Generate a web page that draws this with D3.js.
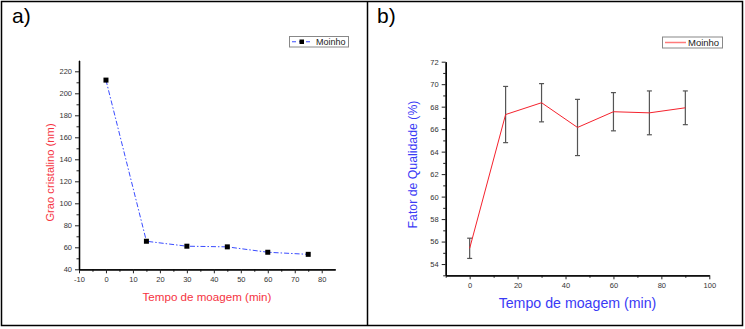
<!DOCTYPE html>
<html>
<head>
<meta charset="utf-8">
<script src="https://cdn.jsdelivr.net/npm/d3@7"></script>
<style>
  body { margin: 0; background: #fff; }
  svg { font-family: "Liberation Sans", Arial, sans-serif; display: block; }
</style>
</head>
<body>
<svg id="chart" width="745" height="329"></svg>
<script>
// panel a) grao cristalino
const tempoA = [0, 15, 30, 45, 60, 75];
const graoA = [212, 65.5, 61, 60.4, 55.5, 53.6];
const ticksXA = [-10, 0, 10, 20, 30, 40, 50, 60, 70, 80];
const ticksYA = [40, 60, 80, 100, 120, 140, 160, 180, 200, 220];

// panel b) fator de qualidade
const tempoB = [0, 15, 30, 45, 60, 75, 90];
const fatorB = [55.4, 67.3, 68.35, 66.15, 67.55, 67.45, 67.9];
const erroB = [0.9, 2.5, 1.7, 2.5, 1.7, 1.95, 1.5];
const ticksXB = [0, 20, 40, 60, 80, 100];
const ticksYB = [54, 56, 58, 60, 62, 64, 66, 68, 70, 72];

const svg = d3.select('#chart');

// frames
svg.append('rect')
    .attr('x', 1.5).attr('y', 1.5)
    .attr('width', 741).attr('height', 324)
    .attr('fill', 'none').attr('stroke', '#000').attr('stroke-width', 1.5);
svg.append('line')
    .attr('x1', 367.5).attr('x2', 367.5).attr('y1', 1.5).attr('y2', 325.5)
    .attr('stroke', '#000').attr('stroke-width', 1.5);

function drawAxes(g, x, y, xt, yt, xMinor, yMinor) {
    const fmt = d => String(d);
    const xAxis = d3.axisBottom(x).tickValues(xt).tickFormat(fmt).tickSize(4).tickSizeOuter(0).tickPadding(3);
    const xAxisMinor = d3.axisBottom(x).tickValues(xMinor).tickSize(2.5).tickFormat('').tickSizeOuter(0);
    const yAxis = d3.axisLeft(y).tickValues(yt).tickFormat(fmt).tickSize(4).tickSizeOuter(0).tickPadding(3);
    const yAxisMinor = d3.axisLeft(y).tickValues(yMinor).tickSize(2.5).tickFormat('').tickSizeOuter(0);

    const y0 = y.range()[0];
    const x0 = x.range()[0];

    [xAxisMinor, xAxis].forEach(a => {
        g.append('g').attr('transform', `translate(0,${y0})`).call(a);
    });
    [yAxisMinor, yAxis].forEach(a => {
        g.append('g').attr('transform', `translate(${x0},0)`).call(a);
    });
    g.selectAll('.domain').attr('stroke', '#000').attr('stroke-width', 1.3);
    g.selectAll('.tick line').attr('stroke', '#222').attr('stroke-width', 1);
    g.selectAll('.tick text').attr('font-size', '7.5px').attr('fill', '#333')
        .attr('font-family', '"Liberation Sans", Arial, sans-serif');
}

// ---------- panel a ----------
const ga = svg.append('g');
const xa = d3.scaleLinear().domain([-10, 85]).range([79, 335.2]);
const ya = d3.scaleLinear().domain([40, 230]).range([269.3, 60.3]);

drawAxes(ga, xa, ya, ticksXA, ticksYA,
    d3.range(-5, 85, 10), d3.range(50, 230, 20));

const lineA = d3.line()
    .x(d => xa(d[0]))
    .y(d => ya(d[1]));

ga.append('path')
    .datum(tempoA.map((t, i) => [t, graoA[i]]))
    .attr('d', lineA)
    .attr('fill', 'none')
    .attr('stroke', '#3a4cff')
    .attr('stroke-width', 1)
    .attr('stroke-dasharray', '5,2,1.5,2');

ga.selectAll('rect.pt')
    .data(tempoA.map((t, i) => [t, graoA[i]]))
    .enter()
    .append('rect')
    .attr('class', 'pt')
    .attr('x', d => xa(d[0]) - 2.5)
    .attr('y', d => ya(d[1]) - 2.5)
    .attr('width', 5).attr('height', 5)
    .attr('fill', '#000');

ga.append('text')
    .attr('x', 12).attr('y', 23)
    .attr('font-size', '21px')
    .attr('fill', '#000')
    .text('a)');

ga.append('text')
    .attr('x', 207).attr('y', 300.5)
    .attr('text-anchor', 'middle')
    .attr('font-size', '11.6px')
    .attr('fill', '#f5333f')
    .text('Tempo de moagem (min)');

ga.append('text')
    .attr('transform', 'translate(53.5,172.5) rotate(-90)')
    .attr('text-anchor', 'middle')
    .attr('font-size', '11.2px')
    .attr('fill', '#f5333f')
    .text('Grao cristalino (nm)');

// legend a
ga.append('rect')
    .attr('x', 289.5).attr('y', 36.5).attr('width', 59).attr('height', 10.5)
    .attr('fill', '#fff').attr('stroke', '#888').attr('stroke-width', 1);
ga.append('line')
    .attr('x1', 292).attr('x2', 312).attr('y1', 41.75).attr('y2', 41.75)
    .attr('stroke', '#3a4cff').attr('stroke-width', 1).attr('stroke-dasharray', '4,3');
ga.append('rect')
    .attr('x', 299.5).attr('y', 39.5).attr('width', 4.5).attr('height', 4.5)
    .attr('fill', '#000');
ga.append('text')
    .attr('x', 316).attr('y', 45)
    .attr('font-size', '9px').attr('fill', '#222')
    .text('Moinho');

// ---------- panel b ----------
const gb = svg.append('g');
const xb = d3.scaleLinear().domain([-10, 100]).range([445.7, 709.3]);
const yb = d3.scaleLinear().domain([53, 72]).range([275.3, 61.7]);

drawAxes(gb, xb, yb, ticksXB, ticksYB,
    d3.range(-10, 100, 20), d3.range(53, 72, 2));

const pontosB = tempoB.map((t, i) => ({ t: t, v: fatorB[i], e: erroB[i] }));

const eb = gb.selectAll('g.err')
    .data(pontosB)
    .enter()
    .append('g')
    .attr('class', 'err');
eb.append('line')
    .attr('x1', d => xb(d.t)).attr('x2', d => xb(d.t))
    .attr('y1', d => yb(d.v + d.e)).attr('y2', d => yb(d.v - d.e))
    .attr('stroke', '#555').attr('stroke-width', 1.2);
eb.append('line')
    .attr('x1', d => xb(d.t) - 2.5).attr('x2', d => xb(d.t) + 2.5)
    .attr('y1', d => yb(d.v + d.e)).attr('y2', d => yb(d.v + d.e))
    .attr('stroke', '#555').attr('stroke-width', 1.2);
eb.append('line')
    .attr('x1', d => xb(d.t) - 2.5).attr('x2', d => xb(d.t) + 2.5)
    .attr('y1', d => yb(d.v - d.e)).attr('y2', d => yb(d.v - d.e))
    .attr('stroke', '#555').attr('stroke-width', 1.2);

gb.append('path')
    .datum(pontosB)
    .attr('d', d3.line().x(d => xb(d.t)).y(d => yb(d.v)))
    .attr('fill', 'none')
    .attr('stroke', '#f5222d')
    .attr('stroke-width', 1);

gb.append('text')
    .attr('x', 377).attr('y', 23)
    .attr('font-size', '21px')
    .attr('fill', '#000')
    .text('b)');

gb.append('text')
    .attr('x', 577.5).attr('y', 308)
    .attr('text-anchor', 'middle')
    .attr('font-size', '14.2px')
    .attr('fill', '#3a3af5')
    .text('Tempo de moagem (min)');

gb.append('text')
    .attr('transform', 'translate(416.5,164.5) rotate(-90)')
    .attr('text-anchor', 'middle')
    .attr('font-size', '12.3px')
    .attr('fill', '#3a3af5')
    .text('Fator de Qualidade (%)');

// legend b
gb.append('rect')
    .attr('x', 662.5).attr('y', 37).attr('width', 60).attr('height', 11)
    .attr('fill', '#fff').attr('stroke', '#888').attr('stroke-width', 1);
gb.append('line')
    .attr('x1', 665).attr('x2', 686).attr('y1', 42.5).attr('y2', 42.5)
    .attr('stroke', '#ff7b7b').attr('stroke-width', 1.5);
gb.append('text')
    .attr('x', 688).attr('y', 46)
    .attr('font-size', '9.5px').attr('fill', '#222')
    .text('Moinho');
</script>
</body>
</html>
